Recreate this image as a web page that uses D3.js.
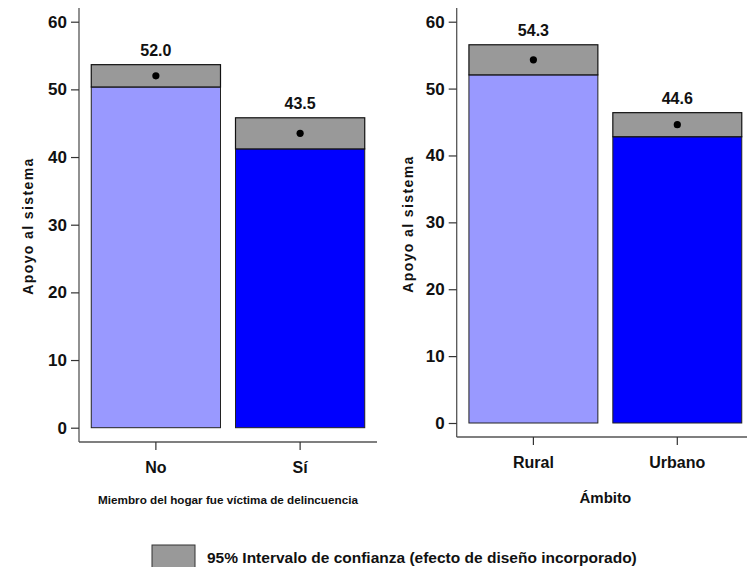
<!DOCTYPE html>
<html>
<head>
<meta charset="utf-8">
<script src="https://cdn.jsdelivr.net/npm/d3@7"></script>
<style>
  body { margin: 0; background: #fff; }
  svg { display: block; font-family: "Liberation Sans", Arial, sans-serif; font-weight: bold; }
</style>
</head>
<body>
<svg id="chart" width="747" height="567"></svg>
<script>
// ---- Data ----
const victimCategories = ["No", "Sí"];
const victimMeans = [52.0, 43.5];
const victimLower = [50.35, 41.2];
const victimUpper = [53.65, 45.8];

const areaCategories = ["Rural", "Urbano"];
const areaMeans = [54.3, 44.6];
const areaLower = [52.05, 42.8];
const areaUpper = [56.55, 46.4];

const yTicks = [0, 10, 20, 30, 40, 50, 60];
const barColors = ["#9999FF", "#0000FF"];
const ciColor = "#999999";
const yTitle = "Apoyo al sistema";
const legendText = "95% Intervalo de confianza (efecto de diseño incorporado)";

const svg = d3.select("#chart");

function panel(cfg) {
  const g = svg.append("g");
  const x = d3.scaleBand().domain(cfg.categories)
    .range([cfg.x0, cfg.x1]).paddingInner(0.104).paddingOuter(0.085);
  const y = d3.scaleLinear().domain([0, 60]).range([cfg.y0, cfg.y60]);

  // axis lines
  g.append("line").attr("x1", cfg.x0).attr("x2", cfg.x0)
    .attr("y1", cfg.axTop).attr("y2", cfg.axBottom)
    .attr("stroke", "#555").attr("stroke-width", 1.3);
  g.append("line").attr("x1", cfg.x0).attr("x2", cfg.xLineEnd)
    .attr("y1", cfg.axBottom).attr("y2", cfg.axBottom)
    .attr("stroke", "#555").attr("stroke-width", 1.3);

  // y axis ticks
  const yAxis = d3.axisLeft(y).tickValues(yTicks).tickSize(8).tickPadding(4)
    .tickFormat(d3.format("d"));
  const ya = g.append("g").attr("transform", `translate(${cfg.x0},0)`).call(yAxis);
  ya.select(".domain").remove();
  ya.selectAll(".tick line").attr("stroke", "#333").attr("stroke-width", 1.2);
  ya.selectAll(".tick text").attr("font-size", 17).attr("font-weight", "bold")
    .attr("font-family", "Liberation Sans, Arial, sans-serif").attr("fill", "#111");

  // x axis ticks
  const xAxis = d3.axisBottom(x).tickSize(8).tickPadding(12);
  const xa = g.append("g").attr("transform", `translate(0,${cfg.axBottom})`).call(xAxis);
  xa.select(".domain").remove();
  xa.selectAll(".tick line").attr("stroke", "#333").attr("stroke-width", 1.2);
  xa.selectAll(".tick text").attr("font-size", 16).attr("font-weight", "bold")
    .attr("font-family", "Liberation Sans, Arial, sans-serif").attr("fill", "#111");

  const data = cfg.categories.map((c, i) => ({
    c, m: cfg.means[i], lo: cfg.lower[i], hi: cfg.upper[i], color: barColors[i]
  }));

  // bars
  g.selectAll(".bar").data(data).enter().append("rect")
    .attr("x", d => x(d.c)).attr("width", x.bandwidth())
    .attr("y", d => y(d.lo)).attr("height", d => y(0) - y(d.lo))
    .attr("fill", d => d.color).attr("stroke", "#222").attr("stroke-width", 1);
  // CI
  g.selectAll(".ci").data(data).enter().append("rect")
    .attr("x", d => x(d.c)).attr("width", x.bandwidth())
    .attr("y", d => y(d.hi)).attr("height", d => y(d.lo) - y(d.hi))
    .attr("fill", ciColor).attr("stroke", "#111").attr("stroke-width", 1.2);
  // means
  g.selectAll(".dot").data(data).enter().append("circle")
    .attr("cx", d => x(d.c) + x.bandwidth() / 2).attr("cy", d => y(d.m))
    .attr("r", 3.6).attr("fill", "#000");
  // labels
  g.selectAll(".lbl").data(data).enter().append("text")
    .attr("x", d => x(d.c) + x.bandwidth() / 2).attr("y", d => y(d.hi) - 9)
    .attr("text-anchor", "middle").attr("font-size", 16).attr("fill", "#111")
    .text(d => d3.format(".1f")(d.m));

  // y title
  g.append("text")
    .attr("transform", `translate(${cfg.yTitleX},${cfg.yTitleY}) rotate(-90)`)
    .attr("text-anchor", "middle").attr("font-size", 14).attr("letter-spacing", 1.4)
    .attr("fill", "#111").text(yTitle);
  // x title
  g.append("text")
    .attr("x", (cfg.x0 + cfg.x1) / 2).attr("y", cfg.xTitleY)
    .attr("text-anchor", "middle").attr("font-size", cfg.xTitleSize).attr("fill", "#111")
    .text(cfg.xTitle);
}

panel({
  categories: victimCategories, means: victimMeans, lower: victimLower, upper: victimUpper,
  x0: 79, x1: 377, xLineEnd: 377, y0: 427.7, y60: 21.7, axTop: 8, axBottom: 442,
  yTitleX: 33, yTitleY: 226, xTitle: "Miembro del hogar fue víctima de delincuencia",
  xTitleY: 503.5, xTitleSize: 11.7
});
panel({
  categories: areaCategories, means: areaMeans, lower: areaLower, upper: areaUpper,
  x0: 456.7, x1: 754, xLineEnd: 747, y0: 423, y60: 21.7, axTop: 8, axBottom: 437,
  yTitleX: 413, yTitleY: 224, xTitle: "Ámbito",
  xTitleY: 503, xTitleSize: 15
});

// legend
svg.append("rect").attr("x", 152).attr("y", 545).attr("width", 43).attr("height", 24)
  .attr("fill", ciColor).attr("stroke", "#333").attr("stroke-width", 1);
svg.append("text").attr("x", 207).attr("y", 563).attr("font-size", 15.5).attr("fill", "#111")
  .text(legendText);
</script>
</body>
</html>
